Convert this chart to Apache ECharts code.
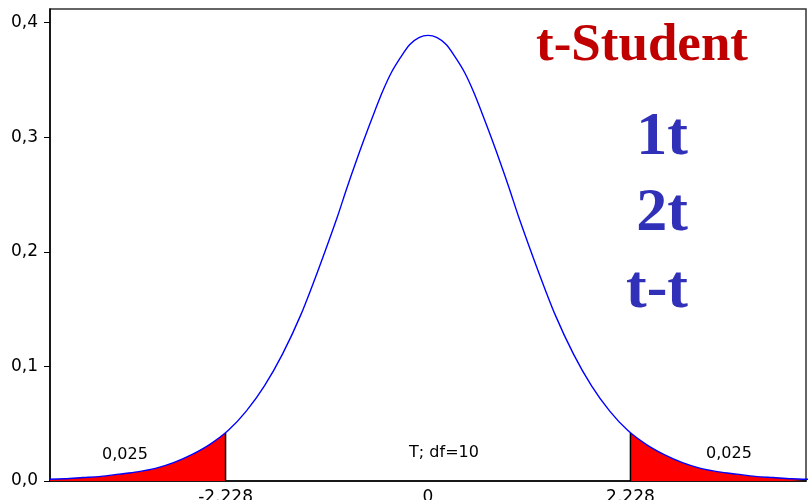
<!doctype html>
<html lang="es">
<head>
    <meta charset="UTF-8">
    <title>t-Student</title>
    <style>
        html, body { margin: 0; padding: 0; background: #fff; }
        #main { width: 808px; height: 500px; }
    </style>
</head>
<body>
<div id="main"></div>
<script src="https://cdn.jsdelivr.net/npm/echarts@6/dist/echarts.min.js"></script>
<script>
    // valores (densidad t, df=10)
    var xs = [-4.2, -4.0, -3.8, -3.6, -3.4, -3.2, -3.0, -2.8, -2.6, -2.4, -2.2, -2.0, -1.8, -1.6, -1.4, -1.2,
        -1.0, -0.9, -0.8, -0.7, -0.6, -0.5, -0.4, -0.3, -0.2, -0.1,
        0, 0.1, 0.2, 0.3, 0.4, 0.5, 0.6, 0.7, 0.8, 0.9, 1.0,
        1.2, 1.4, 1.6, 1.8, 2.0, 2.2, 2.4, 2.6, 2.8, 3.0, 3.2, 3.4, 3.6, 3.8, 4.0, 4.2];
    var density = [0.0015, 0.002, 0.003, 0.004, 0.006, 0.008, 0.011, 0.016, 0.023, 0.032, 0.044, 0.061, 0.083, 0.111, 0.145, 0.186,
        0.230, 0.254, 0.277, 0.299, 0.320, 0.340, 0.357, 0.370, 0.381, 0.387,
        0.389, 0.387, 0.381, 0.370, 0.357, 0.340, 0.320, 0.299, 0.277, 0.254, 0.230,
        0.186, 0.145, 0.111, 0.083, 0.061, 0.044, 0.032, 0.023, 0.016, 0.011, 0.008, 0.006, 0.004, 0.003, 0.002, 0.0015];
    var critT = 2.228;
    var critY = 0.042;
    var xTicks = [-2.228, 0, 2.228];
    var yTicks = [0, 0.1, 0.2, 0.3, 0.4];

    var curve = [], leftTail = [], rightTail = [];
    for (var i = 0; i < xs.length; i++) {
        curve.push([xs[i], density[i]]);
        if (xs[i] < -critT) leftTail.push([xs[i], density[i]]);
    }
    leftTail.push([-critT, critY]);
    rightTail.push([critT, critY]);
    for (var j = 0; j < xs.length; j++) {
        if (xs[j] > critT) rightTail.push([xs[j], density[j]]);
    }

    var myChart = echarts.init(document.getElementById('main'));

    var option = {
        animation: false,
        backgroundColor: '#fff',
        grid: {
            left: 50, right: 2, top: 9, bottom: 19,
            outerBoundsMode: 'none',
            containLabel: false,
            show: true,
            borderColor: '#333',
            borderWidth: 1.5
        },
        xAxis: {
            type: 'value',
            min: -4.16,
            max: 4.16,
            axisLine: { onZero: false, lineStyle: { color: '#000', width: 1.5 } },
            axisTick: { show: false },
            splitLine: { show: false },
            axisLabel: {
                customValues: xTicks,
                margin: 8,
                fontFamily: 'DejaVu Sans',
                fontSize: 17,
                color: '#000',
                formatter: function (v) { return v === 0 ? '0' : v.toFixed(3); }
            }
        },
        yAxis: {
            type: 'value',
            min: 0,
            max: 0.412,
            axisLine: { show: true, onZero: false, lineStyle: { color: '#000', width: 1.5 } },
            axisTick: { show: true, length: 6, customValues: yTicks, lineStyle: { color: '#000' } },
            splitLine: { show: false },
            axisLabel: {
                customValues: yTicks,
                margin: 12,
                fontFamily: 'DejaVu Sans',
                fontSize: 17,
                color: '#000',
                formatter: function (v) { return v.toFixed(1).replace('.', ','); }
            }
        },
        series: [{
            type: 'line',
            data: leftTail,
            smooth: 0.3,
            symbol: 'none',
            lineStyle: { width: 0 },
            areaStyle: { color: '#ff0000', opacity: 1 },
            z: 2
        }, {
            type: 'line',
            data: rightTail,
            smooth: 0.3,
            symbol: 'none',
            lineStyle: { width: 0 },
            areaStyle: { color: '#ff0000', opacity: 1 },
            z: 2
        }, {
            type: 'line',
            data: [[-critT, 0], [-critT, critY]],
            symbol: 'none',
            lineStyle: { color: '#000', width: 1.5 },
            z: 3
        }, {
            type: 'line',
            data: [[critT, 0], [critT, critY]],
            symbol: 'none',
            lineStyle: { color: '#000', width: 1.5 },
            z: 3
        }, {
            type: 'line',
            data: curve,
            smooth: 0.3,
            symbol: 'none',
            lineStyle: { color: '#0000ff', width: 1.4 },
            z: 4
        }],
        graphic: [{
            type: 'text', x: 642, y: 46,
            style: { text: 't-Student', font: 'bold 53px "Liberation Serif"', fill: '#c00000', textAlign: 'center', textVerticalAlign: 'middle' }
        }, {
            type: 'text', x: 688, y: 138,
            style: { text: '1t', font: 'bold 62px "Liberation Serif"', fill: '#3030b8', textAlign: 'right', textVerticalAlign: 'middle' }
        }, {
            type: 'text', x: 688, y: 214,
            style: { text: '2t', font: 'bold 62px "Liberation Serif"', fill: '#3030b8', textAlign: 'right', textVerticalAlign: 'middle' }
        }, {
            type: 'text', x: 688, y: 291,
            style: { text: 't-t', font: 'bold 62px "Liberation Serif"', fill: '#3030b8', textAlign: 'right', textVerticalAlign: 'middle' }
        }, {
            type: 'text', x: 125, y: 455,
            style: { text: '0,025', font: '16px "DejaVu Sans"', fill: '#000', textAlign: 'center', textVerticalAlign: 'middle' }
        }, {
            type: 'text', x: 729, y: 454,
            style: { text: '0,025', font: '16px "DejaVu Sans"', fill: '#000', textAlign: 'center', textVerticalAlign: 'middle' }
        }, {
            type: 'text', x: 444, y: 453,
            style: { text: 'T; df=10', font: '16px "DejaVu Sans"', fill: '#000', textAlign: 'center', textVerticalAlign: 'middle' }
        }]
    };
    myChart.setOption(option);
</script>
</body>
</html>
